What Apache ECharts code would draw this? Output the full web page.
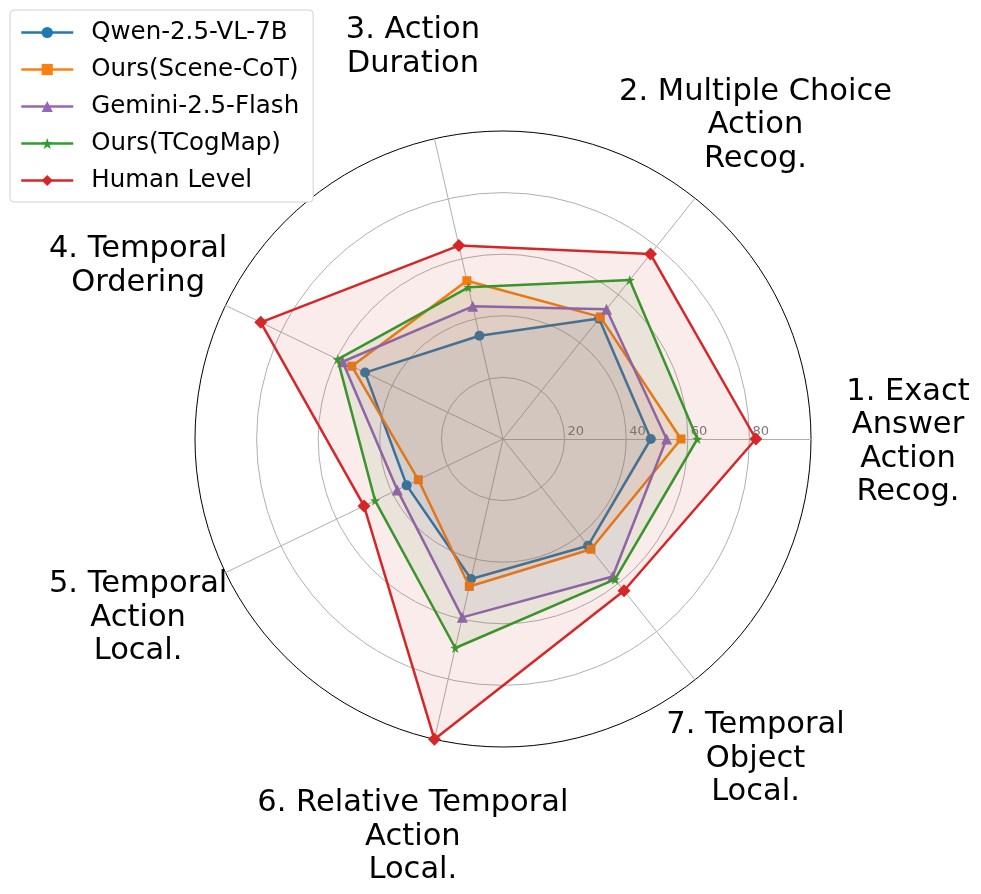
<!DOCTYPE html>
<html><head><meta charset="utf-8">
<script src="https://cdn.jsdelivr.net/npm/echarts@6/dist/echarts.min.js"></script>
<style>html,body{margin:0;padding:0;background:#fff}#c{width:981px;height:894px}</style>
</head><body><div id="c"></div><script>
// ---- data ----
const categories = [
  '1. Exact\nAnswer\nAction\nRecog.',
  '2. Multiple Choice\nAction\nRecog.',
  '3. Action\nDuration',
  '4. Temporal\nOrdering',
  '5. Temporal\nAction\nLocal.',
  '6. Relative Temporal\nAction\nLocal.',
  '7. Temporal\nObject\nLocal.'
];
const seriesNames = ['Qwen-2.5-VL-7B', 'Ours(Scene-CoT)', 'Gemini-2.5-Flash', 'Ours(TCogMap)', 'Human Level'];
const qwenValues    = [48.0, 50.0, 34.4, 49.7, 34.7, 46.6, 44.3];
const sceneCotValues = [57.8, 50.7, 52.7, 54.5, 30.5, 49.1, 45.8];
const geminiValues  = [53.1, 53.9, 44.2, 57.8, 38.1, 59.4, 57.1];
const tcogValues    = [63.1, 66.0, 50.5, 59.6, 46.1, 69.6, 58.3];
const humanValues   = [82.1, 76.8, 64.4, 87.3, 50.1, 100, 63.0];
const tickValues = [20, 40, 60, 80];
const tickLabels = ['20', '40', '60', '80'];
const axisMax = 100;

// ---- styles ----
const colors = ['#1f77b4', '#ff7f0e', '#9467bd', '#2ca02c', '#d62728'];
const symbols = ['circle', 'rect', 'triangle', 'path://M0,-10L2.35,-3.24L9.51,-3.09L3.8,1.24L5.88,8.09L0,4L-5.88,8.09L-3.8,1.24L-9.51,-3.09L-2.35,-3.24Z', 'diamond'];
const symbolSizes = [10, 9, 11, 10, 13];
const allValues = [qwenValues, sceneCotValues, geminiValues, tcogValues, humanValues];
const FONT = 'DejaVu Sans';
const cx = 503, cy = 439, R = 308;
const labelR = 405;

const chart = echarts.init(document.getElementById('c'), null, {renderer: 'canvas'});

const graphics = [];
categories.forEach((c, i) => {
  const a = i * 2 * Math.PI / categories.length;
  graphics.push({
    type: 'text', silent: true,
    x: cx + labelR * Math.cos(a), y: cy - labelR * Math.sin(a) + 3,
    style: {text: c, align: 'center', verticalAlign: 'middle', font: '30.5px "' + FONT + '"', lineHeight: 33.5, fill: '#000'}
  });
});
tickValues.forEach((v, i) => {
  graphics.push({
    type: 'text', silent: true,
    x: cx + v / axisMax * R + 3, y: cy - 1,
    style: {text: tickLabels[i], align: 'left', verticalAlign: 'bottom', font: '13px "' + FONT + '"', fill: '#7a7a7a'}
  });
});

const series = [];
// dummy line series so legend shows line + marker icons
seriesNames.forEach((n, i) => {
  series.push({
    type: 'line', name: n, data: [], xAxisIndex: 0, yAxisIndex: 0,
    symbol: symbols[i], symbolSize: symbolSizes[i], color: colors[i],
    lineStyle: {width: 2.5, color: colors[i]}, itemStyle: {color: colors[i]}
  });
});
seriesNames.forEach((n, i) => {
  series.push({
    type: 'radar', name: n, z: 3 + i,
    symbol: symbols[i], symbolSize: symbolSizes[i], color: colors[i],
    lineStyle: {width: 2.5, color: colors[i]},
    itemStyle: {color: colors[i]},
    areaStyle: {color: colors[i], opacity: 0.09},
    data: [{value: allValues[i], name: n}]
  });
});

chart.setOption({
  animation: false,
  backgroundColor: '#fff',
  textStyle: {fontFamily: FONT},
  grid: {show: false, left: 0, top: 0, width: 10, height: 10},
  xAxis: {show: false, type: 'value'},
  yAxis: {show: false, type: 'value'},
  legend: {
    orient: 'vertical', left: 10, top: 10,
    padding: [10, 14, 9, 10],
    itemWidth: 52, itemHeight: 14, itemGap: 12,
    backgroundColor: '#fff', borderColor: '#d0d0d0', borderWidth: 1, borderRadius: 4,
    lineStyle: {width: 2.5},
    textStyle: {fontSize: 24.5, fontFamily: FONT, color: '#000', padding: [0, 0, 0, 13]},
    data: seriesNames,
    selectedMode: false
  },
  radar: {
    center: [cx, cy], radius: R, startAngle: 0, shape: 'circle',
    splitNumber: 5,
    indicator: categories.map(c => ({name: c, min: 0, max: axisMax})),
    axisName: {show: false},
    axisLine: {lineStyle: {color: '#b0b0b0', width: 1}},
    axisTick: {show: false},
    axisLabel: {show: false},
    splitLine: {lineStyle: {color: ['#b0b0b0', '#b0b0b0', '#b0b0b0', '#b0b0b0', '#b0b0b0', '#000000'], width: 1}},
    splitArea: {show: false}
  },
  graphic: graphics,
  series: series
});
</script></body></html>
